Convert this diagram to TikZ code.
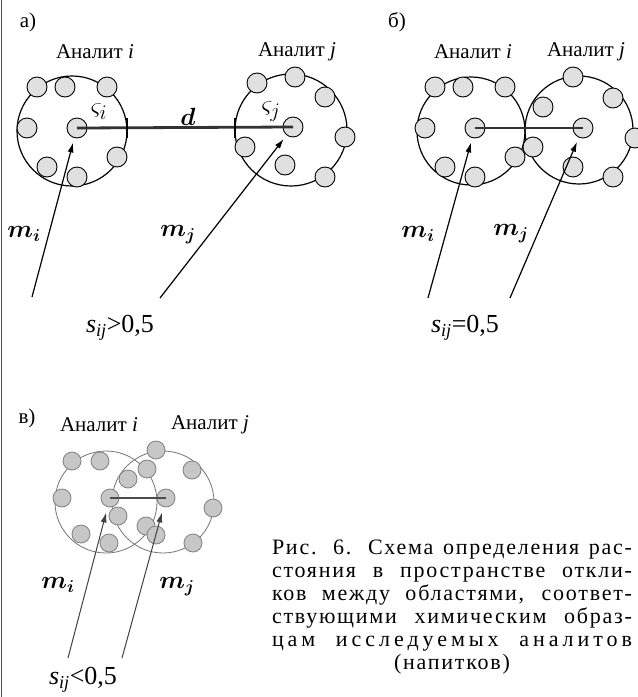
\documentclass[tikz,border=0pt]{standalone}
\usepackage{amsmath}
\usepackage{amssymb}
\usepackage{bm}
\usepackage{fontspec}
\setmainfont{Liberation Serif}
\usetikzlibrary{arrows.meta}

\begin{document}
\begin{tikzpicture}[x=1pt,y=-1pt,
  lbl/.style={font=\fontsize{21}{24}\selectfont,inner sep=0pt},
  big/.style={font=\fontsize{26}{30}\selectfont,inner sep=0pt},
  capt/.style={font=\fontsize{22}{23}\selectfont\addfontfeatures{LetterSpace=8},inner sep=0pt,align=center},
  dot/.style={circle,draw,fill=black!12,minimum size=20pt,inner sep=0pt,line width=0.9pt},
  pale/.style={circle,draw=black!50,fill=black!22,minimum size=18pt,inner sep=0pt,line width=0.8pt},
  ray/.style={-{Latex[length=10pt,width=6pt]},line width=1.2pt,shorten >=15pt},
  dist/.style={line width=2.8pt,black!80}]
  \useasboundingbox (0,0) rectangle (638,697);
  \draw[line width=1.6pt,black!70] (1.5,0) -- (1.5,697);

  \node[lbl] (ta) at (28,22) {а)};
  \node[lbl] (nai) at (95,52) {Аналит \textit{i}};
  \node[lbl] (naj) at (297,52) {Аналит \textit{j}};
  \draw[line width=1.2pt] (72,131) circle (55);
  \draw[line width=1.2pt] (291,130) circle (56);
  \foreach \x/\y [count=\k] in {37/87,65/87,107/87,27/128,117/157,47/167,77/177}
    \node[dot] (al\k) at (\x,\y) {};
  \foreach \x/\y [count=\k] in {257/83,295/77,325/97,345/137,245/147,285/165,325/177}
    \node[dot] (ar\k) at (\x,\y) {};
  \node[dot] (ai) at (77,128) {};
  \node[dot] (aj) at (293,127) {};
  \draw[dist] (ai.center) -- (aj.center);
  \draw[line width=1.3pt] (127,118) -- (127,138);
  \draw[line width=1.3pt] (235,118) -- (235,138);
  \node[big,font=\fontsize{31}{34}\selectfont] (si) at (99,112) {$\varsigma_i$};
  \node[big,font=\fontsize{31}{34}\selectfont] (sj) at (271,112) {$\varsigma_j$};
  \node[lbl,font=\fontsize{23}{26}\selectfont] (d) at (188,117) {$\bm{d}$};
  \coordinate (fai) at (32,297);
  \coordinate (faj) at (160,298);
  \draw[ray] (fai) -- (ai.center);
  \draw[ray] (faj) -- (aj.center);
  \node[big] (mai) at (24,234) {$\bm{m}_{\bm{i}}$};
  \node[big] (maj) at (178,235) {$\bm{m}_{\bm{j}}$};
  \node[big] (sa) at (120,328) {\textit{s}$_{\textit{ij}}$>0,5};

  \node[lbl] (tb) at (397,22) {б)};
  \node[lbl] (nbi) at (473,52) {Аналит \textit{i}};
  \node[lbl] (nbj) at (586,52) {Аналит \textit{j}};
  \draw[line width=1.2pt] (471,131) circle (54);
  \draw[line width=1.2pt] (579,130) circle (54);
  \foreach \x/\y [count=\k] in {435/87,463/87,505/87,425/128,515/157,445/167,475/177}
    \node[dot] (bl\k) at (\x,\y) {};
  \foreach \x/\y [count=\k] in {573/77,613/98,635/138,543/107,533/147,573/167,613/177}
    \node[dot] (br\k) at (\x,\y) {};
  \node[dot] (bi) at (475,128) {};
  \node[dot] (bj) at (583,128) {};
  \draw[dist] (bi.center) -- (bj.center);
  \coordinate (fbi) at (428,298);
  \coordinate (fbj) at (510,298);
  \draw[ray] (fbi) -- (bi.center);
  \draw[ray] (fbj) -- (bj.center);
  \node[big] (mbi) at (418,234) {$\bm{m}_{\bm{i}}$};
  \node[big] (mbj) at (511,234) {$\bm{m}_{\bm{j}}$};
  \node[big] (sb) at (465,328) {\textit{s}$_{\textit{ij}}$=0,5};

  \node[lbl] (tc) at (27,418) {в)};
  \node[lbl] (nci) at (99,425) {Аналит \textit{i}};
  \node[lbl] (ncj) at (210,425) {Аналит \textit{j}};
  \draw[black!55,line width=0.8pt] (106,502) circle (51);
  \draw[black!55,line width=0.8pt] (163,502) circle (51);
  \foreach \x/\y [count=\k] in {72/461,100/461,62/498,118/516,81/534,109/543}
    \node[pale] (cl\k) at (\x,\y) {};
  \foreach \x/\y [count=\k] in {156/450,147/469,128/479,192/470,213/508,146/526,156/535,193/543}
    \node[pale] (cr\k) at (\x,\y) {};
  \node[pale] (ci) at (110,498) {};
  \node[pale] (cj) at (166,498) {};
  \draw[dist,black!70] (ci.center) -- (cj.center);
  \coordinate (fci) at (68,658);
  \coordinate (fcj) at (122,658);
  \draw[ray,black!75,line width=1pt] (fci) -- (ci.center);
  \draw[ray,black!75,line width=1pt] (fcj) -- (cj.center);
  \node[big] (mci) at (58,585) {$\bm{m}_{\bm{i}}$};
  \node[big] (mcj) at (177,587) {$\bm{m}_{\bm{j}}$};
  \node[big] (sc) at (83,680) {\textit{s}$_{\textit{ij}}$<0,5};

  \node[capt,anchor=north] (cap) at (452,540) {%
    \makebox[360pt][s]{Рис. 6. Схема определения рас-}\\
    \makebox[360pt][s]{стояния в пространстве откли-}\\
    \makebox[360pt][s]{ков между областями, соответ-}\\
    \makebox[360pt][s]{ствующими химическим образ-}\\
    \makebox[360pt][s]{\addfontfeatures{LetterSpace=18}цам исследуемых аналитов}\\
    (напитков)};
\end{tikzpicture}
\end{document}
